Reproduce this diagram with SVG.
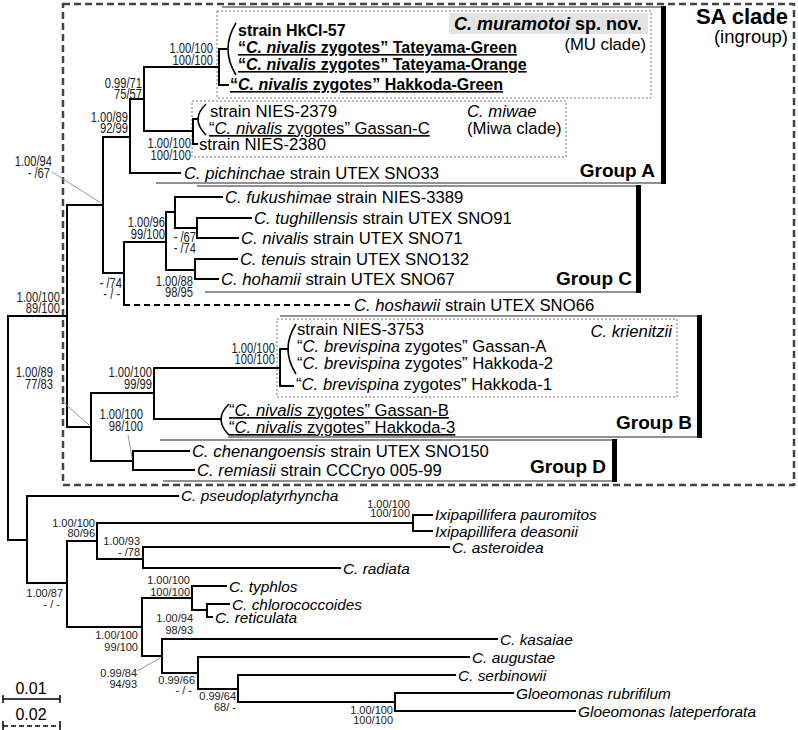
<svg xmlns="http://www.w3.org/2000/svg" width="798" height="730" viewBox="0 0 798 730">
<style>
text{font-family:"Liberation Sans",Arial,sans-serif;fill:#000}
.t{font-size:16.7px}
.b{font-size:16px;font-weight:bold}
.i{font-style:italic}
.u{text-decoration:underline}
.o{font-size:15.4px;font-style:italic}
.br{fill:none;stroke:#000;stroke-width:2;stroke-linecap:square}
.pa{fill:none;stroke:#000;stroke-width:1.6}
.ld{stroke:#999;stroke-width:1}
.gr{stroke:#6e6e6e;stroke-width:1.3}
.dot{fill:none;stroke:#777;stroke-width:1;stroke-dasharray:2 2}
.sl text{font-size:14.5px;text-anchor:end;fill:#222}
.ol text{font-size:11px;text-anchor:end;fill:#222}
.gp{font-size:19px;font-weight:bold;text-anchor:end}
</style>

<!-- frames -->
<g id="sa-clade">
<rect x="63" y="4" width="731" height="481" fill="none" stroke="#444" stroke-width="2.5" stroke-dasharray="7 4"/>
<text x="788" y="24" style="font-size:22px;font-weight:bold" text-anchor="end">SA clade</text>
<text x="788" y="43" style="font-size:18.5px" text-anchor="end">(ingroup)</text>
</g>
<g id="groupA">
<path class="gr" d="M222 7H666M156 183H666"/>
<rect x="661" y="6" width="5" height="178" fill="#000"/>
<text class="gp" x="655" y="177">Group A</text>
</g>
<g id="groupC">
<path class="gr" d="M197 186H641M205 292H641"/>
<rect x="636" y="185" width="5" height="108" fill="#000"/>
<text class="gp" x="632" y="285">Group C</text>
</g>
<g id="groupB">
<path class="gr" d="M280 316H702M228 437H702"/>
<rect x="697" y="315" width="5" height="123" fill="#000"/>
<text class="gp" x="692" y="429">Group B</text>
</g>
<g id="groupD">
<path class="gr" d="M160 440H617M163 481H617"/>
<rect x="612" y="439" width="5" height="43" fill="#000"/>
<text class="gp" x="606" y="473">Group D</text>
</g>
<g id="mu-clade">
<rect class="dot" x="217" y="11" width="434" height="87"/>
<rect x="449" y="13" width="199" height="21" fill="#e3e3e3"/>
<text x="454" y="30" style="font-size:18px;font-weight:bold"><tspan font-style="italic">C. muramotoi</tspan> sp. nov.</text>
<text class="t" x="646" y="50" text-anchor="end">(MU clade)</text>
</g>
<g id="miwa-clade">
<rect class="dot" x="192" y="101" width="374" height="56"/>
<text class="t i" x="467" y="117">C. miwae</text>
<text class="t" x="467" y="134">(Miwa clade)</text>
</g>
<g id="krienitzii-clade">
<rect class="dot" x="277" y="319" width="400" height="78"/>
<text class="t i" x="672" y="337" text-anchor="end">C. krienitzii</text>
</g>

<!-- connectors -->
<g id="branches">
<path class="br" d="M8 316V540M8 316H67M8 540H27
M67 205V427M67 205H103M67 427H91
M103 137V273M103 137H130M103 273H124
M130 99V173M130 99H144M130 173H180
M144 67V131M144 67H219M144 131H193
M226 49H219V85H228M197 119H193V144H197
M124 242V305M124 242H166
M166 212V270M166 212H175M166 270H195
M175 197V228M175 197H222M175 228H197
M197 218V238M197 218H251M197 238H238
M195 259V279M195 259H237M195 279H218
M91 393V461M91 393H154M91 461H133
M154 368V419M154 368H280M154 419H221
M288 349H280V386H293
M133 451V470M133 451H189M133 470H194
M27 496V583M27 496H178M27 583H67
M67 541V627M67 541H97M67 627H142
M97 523V559M97 523H413M97 559H143
M413 515V531M413 515H432M413 531H432
M143 547V568M143 547H449M143 568H340
M142 598V656M142 598H192M142 656H162
M192 586V610M192 586H226M192 610H207
M207 604V617M207 604H229M207 617H212
M162 639V673M162 639H497M162 673H198
M198 657V689M198 657H469M198 689H238
M238 675V702M238 675H455M238 702H395
M395 693V711M395 693H513M395 711H575"/>
<path d="M124 305H350" fill="none" stroke="#000" stroke-width="2" stroke-dasharray="6 4"/>
<path class="pa" d="M236 23Q220 49 236 75M206 104Q190 119 206 135M296 324Q280 349 296 374M229 404Q213 419 229 435"/>
<path class="ld" d="M52 172L101 203M62 401L89 425M128 435L132 458M137 671L160 658"/>
</g>

<!-- taxa -->
<g id="hkcl57"><text class="b" x="238" y="36">strain HkCl-57</text></g>
<g id="tateyama-green"><text class="b u" x="238" y="53">“<tspan font-style="italic">C. nivalis</tspan> zygotes” Tateyama-Green</text></g>
<g id="tateyama-orange"><text class="b u" x="238" y="70">“<tspan font-style="italic">C. nivalis</tspan> zygotes” Tateyama-Orange</text></g>
<g id="hakkoda-green"><text class="b u" x="230" y="90">“<tspan font-style="italic">C. nivalis</tspan> zygotes” Hakkoda-Green</text></g>
<g id="nies2379"><text class="t" x="210" y="117">strain NIES-2379</text></g>
<g id="gassan-c"><text class="t u" x="209" y="134">“<tspan font-style="italic">C. nivalis</tspan> zygotes” Gassan-C</text></g>
<g id="nies2380"><text class="t" x="199" y="150">strain NIES-2380</text></g>
<g id="pichinchae"><text class="t" x="184" y="179"><tspan font-style="italic">C. pichinchae</tspan> strain UTEX SNO33</text></g>
<g id="fukushimae"><text class="t" x="225" y="203"><tspan font-style="italic">C. fukushimae</tspan> strain NIES-3389</text></g>
<g id="tughillensis"><text class="t" x="254" y="224"><tspan font-style="italic">C. tughillensis</tspan> strain UTEX SNO91</text></g>
<g id="nivalis"><text class="t" x="241" y="244"><tspan font-style="italic">C. nivalis</tspan> strain UTEX SNO71</text></g>
<g id="tenuis"><text class="t" x="240" y="265"><tspan font-style="italic">C. tenuis</tspan> strain UTEX SNO132</text></g>
<g id="hohamii"><text class="t" x="221" y="285"><tspan font-style="italic">C. hohamii</tspan> strain UTEX SNO67</text></g>
<g id="hoshawii"><text class="t" x="354" y="311"><tspan font-style="italic">C. hoshawii</tspan> strain UTEX SNO66</text></g>
<g id="nies3753"><text class="t" x="297" y="335">strain NIES-3753</text></g>
<g id="gassan-a"><text class="t" x="297" y="352">“<tspan font-style="italic">C. brevispina</tspan> zygotes” Gassan-A</text></g>
<g id="hakkoda-2"><text class="t" x="297" y="369">“<tspan font-style="italic">C. brevispina</tspan> zygotes” Hakkoda-2</text></g>
<g id="hakkoda-1"><text class="t" x="296" y="390">“<tspan font-style="italic">C. brevispina</tspan> zygotes” Hakkoda-1</text></g>
<g id="gassan-b"><text class="t u" x="229" y="416">“<tspan font-style="italic">C. nivalis</tspan> zygotes” Gassan-B</text></g>
<g id="hakkoda-3"><text class="t u" x="229" y="433">“<tspan font-style="italic">C. nivalis</tspan> zygotes” Hakkoda-3</text></g>
<g id="chenangoensis"><text class="t" x="192" y="457"><tspan font-style="italic">C. chenangoensis</tspan> strain UTEX SNO150</text></g>
<g id="remiasii"><text class="t" x="197" y="476"><tspan font-style="italic">C. remiasii</tspan> strain CCCryo 005-99</text></g>
<g id="pseudoplatyrhyncha"><text class="o" x="181" y="501">C. pseudoplatyrhyncha</text></g>
<g id="pauromitos"><text class="o" x="435" y="520">Ixipapillifera pauromitos</text></g>
<g id="deasonii"><text class="o" x="435" y="537">Ixipapillifera deasonii</text></g>
<g id="asteroidea"><text class="o" x="452" y="553">C. asteroidea</text></g>
<g id="radiata"><text class="o" x="343" y="574">C. radiata</text></g>
<g id="typhlos"><text class="o" x="229" y="592">C. typhlos</text></g>
<g id="chlorococcoides"><text class="o" x="232" y="610">C. chlorococcoides</text></g>
<g id="reticulata"><text class="o" x="215" y="623">C. reticulata</text></g>
<g id="kasaiae"><text class="o" x="500" y="645">C. kasaiae</text></g>
<g id="augustae"><text class="o" x="472" y="663">C. augustae</text></g>
<g id="serbinowii"><text class="o" x="458" y="681">C. serbinowii</text></g>
<g id="rubrifilum"><text class="o" x="516" y="699">Gloeomonas rubrifilum</text></g>
<g id="lateperforata"><text class="o" x="578" y="717">Gloeomonas lateperforata</text></g>

<!-- support values, ingroup -->
<g id="support-ingroup" class="sl" transform="scale(0.77 1)">
<text x="276.6" y="53">1.00/100<tspan x="276.6" y="65">100/100</tspan></text>
<text x="184.4" y="88">0.99/71<tspan x="184.4" y="99">75/57</tspan></text>
<text x="166.2" y="122">1.00/89<tspan x="166.2" y="133">92/99</tspan></text>
<text x="248" y="148">1.00/100<tspan x="248" y="160">100/100</tspan></text>
<text x="67.5" y="166">1.00/94<tspan x="65" y="178">- /67</tspan></text>
<text x="214.3" y="227">1.00/96<tspan x="214.3" y="239">99/100</tspan></text>
<text x="254.5" y="242">- /67<tspan x="254.5" y="253">- /74</tspan></text>
<text x="158.4" y="288">- /74<tspan x="156" y="299">- / -</tspan></text>
<text x="250.6" y="286">1.00/88<tspan x="250.6" y="297">98/95</tspan></text>
<text x="77.9" y="302">1.00/100<tspan x="77.9" y="313">89/100</tspan></text>
<text x="68.8" y="377">1.00/89<tspan x="68.8" y="389">77/83</tspan></text>
<text x="197.4" y="377">1.00/100<tspan x="197.4" y="389">99/99</tspan></text>
<text x="357.1" y="353">1.00/100<tspan x="357.1" y="364">100/100</tspan></text>
<text x="185.7" y="419">1.00/100<tspan x="185.7" y="431">98/100</tspan></text>
</g>
<!-- support values, outgroup -->
<g id="support-outgroup" class="ol">
<text x="410" y="508">1.00/100<tspan x="410" y="517">100/100</tspan></text>
<text x="95" y="527">1.00/100<tspan x="95" y="537">80/96</tspan></text>
<text x="140" y="545">1.00/93<tspan x="140" y="556">- /78</tspan></text>
<text x="63" y="597">1.00/87<tspan x="60" y="608">- / -</tspan></text>
<text x="190" y="584">1.00/100<tspan x="190" y="596">100/100</tspan></text>
<text x="193" y="622">1.00/94<tspan x="193" y="634">98/93</tspan></text>
<text x="138" y="639">1.00/100<tspan x="138" y="651">99/100</tspan></text>
<text x="137" y="677">0.99/84<tspan x="137" y="688">94/93</tspan></text>
<text x="195" y="684">0.99/66<tspan x="192" y="694">- / -</tspan></text>
<text x="236" y="700">0.99/64<tspan x="236" y="711">68/ -</tspan></text>
<text x="393" y="714">1.00/100<tspan x="393" y="724">100/100</tspan></text>
</g>

<!-- scale bars -->
<g id="scale-001">
<path d="M3 699H60M3 695V703M60 695V703" stroke="#000" stroke-width="1.5" fill="none"/>
<text x="31" y="694" style="font-size:16px" text-anchor="middle">0.01</text>
</g>
<g id="scale-002">
<path d="M3 726H60" stroke="#000" stroke-width="1.5" stroke-dasharray="5 3" fill="none"/>
<path d="M3 721V730M60 721V730" stroke="#000" stroke-width="1.5" fill="none"/>
<text x="31" y="720" style="font-size:16px" text-anchor="middle">0.02</text>
</g>
</svg>
